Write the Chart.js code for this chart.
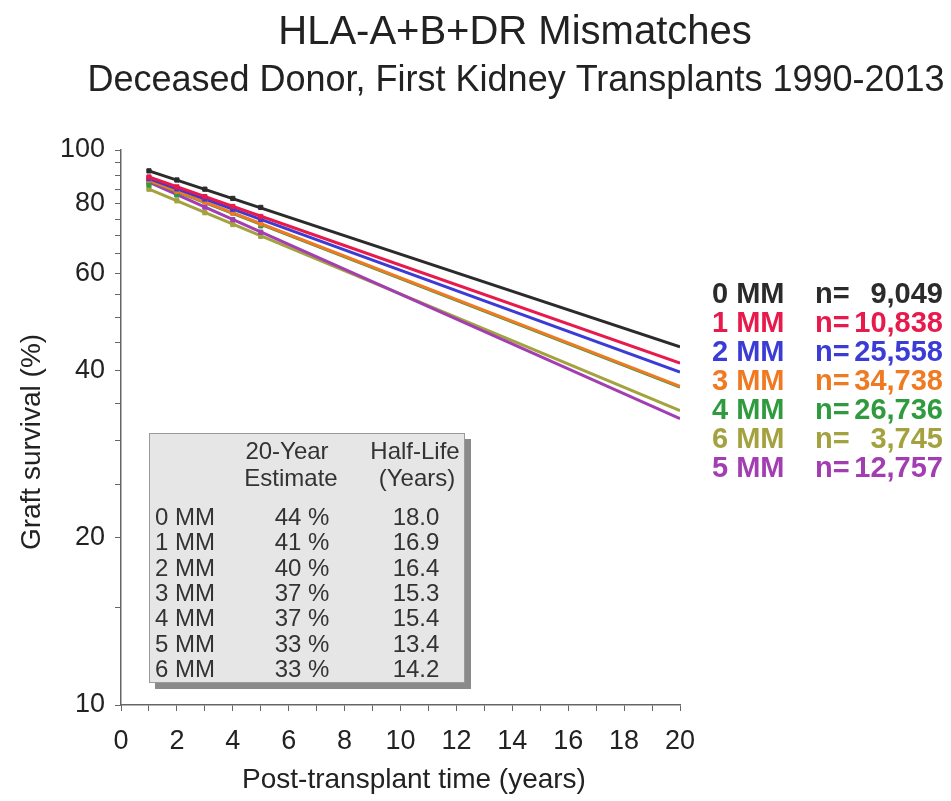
<!DOCTYPE html>
<html>
<head>
<meta charset="utf-8">
<script src="https://cdn.jsdelivr.net/npm/chart.js@4.4.1/dist/chart.umd.min.js"></script>
<style>
  html, body { margin: 0; padding: 0; background: #fff; }
  #wrap { width: 951px; height: 801px; }
</style>
</head>
<body>
<div id="wrap"><canvas id="graftChart" width="951" height="801"></canvas></div>
<script>
// series: 0 MM .. 6 MM
var seriesNames = ['0 MM', '1 MM', '2 MM', '3 MM', '4 MM', '5 MM', '6 MM'];
var seriesColors = ['#2b2b2b', '#e8194b', '#3b3bd6', '#f07a22', '#2f9a3e', '#a23db2', '#a3a23e'];
var nCounts = ['9,049', '10,838', '25,558', '34,738', '26,736', '12,757', '3,745'];

// observed survival, years 1-5
var obsYears = [1, 2, 3, 4, 5];
var obs0 = [91.7, 88.3, 85.0, 81.8, 78.8];
var obs1 = [89.4, 85.8, 82.4, 79.1, 75.9];
var obs2 = [88.8, 85.1, 81.6, 78.2, 75.0];
var obs3 = [88.2, 84.3, 80.6, 77.0, 73.6];
var obs4 = [86.5, 83.0, 80.9, 77.0, 73.0];
var obs5 = [87.5, 83.1, 78.9, 74.9, 71.1];
var obs6 = [85.0, 81.0, 77.1, 73.4, 69.9];
var observed = [obs0, obs1, obs2, obs3, obs4, obs5, obs6];

// fitted lines, year 1 -> year 20
var fitYears = [1, 20];
var fitStart = [91.7, 89.4, 88.8, 88.2, 88.0, 87.5, 85.0];
var fitEnd = [44.2, 41.3, 39.8, 37.5, 37.4, 32.8, 33.9];

// table in the plot
var est20 = ['44 %', '41 %', '40 %', '37 %', '37 %', '33 %', '33 %'];
var halfLife = ['18.0', '16.9', '16.4', '15.3', '15.4', '13.4', '14.2'];

// legend on the right, top to bottom
var legendOrder = [0, 1, 2, 3, 4, 6, 5];

// axis ticks
var yTickValues = [10, 15, 20, 25, 30, 35, 40, 45, 50, 55, 60, 65, 70, 75, 80, 85, 90, 95, 100];
var yTickLabels = [10, 20, 40, 60, 80, 100];

var FONT = '"Liberation Sans", Arial, sans-serif';
var TEXT = '#222';

var datasets = [];
// markers first so they sit on top of the lines
observed.forEach(function (vals, i) {
    datasets.push({
        label: seriesNames[i] + ' obs',
        data: obsYears.map(function (x, k) { return { x: x, y: vals[k] }; }),
        showLine: false,
        pointStyle: 'rect',
        pointRadius: 3,
        pointBackgroundColor: seriesColors[i],
        pointBorderColor: seriesColors[i],
        borderColor: seriesColors[i],
        order: 0
    });
});
seriesNames.forEach(function (name, i) {
    datasets.push({
        label: name,
        data: [{ x: fitYears[0], y: fitStart[i] }, { x: fitYears[1], y: fitEnd[i] }],
        showLine: true,
        borderColor: seriesColors[i],
        borderWidth: 3,
        pointRadius: 0,
        fill: false,
        order: 1
    });
});

// titles, legend text and the summary table
var textPlugin = {
    id: 'textPlugin',
    afterDraw: function (chart) {
        var ctx = chart.ctx;
        ctx.save();
        ctx.fillStyle = TEXT;
        ctx.textAlign = 'center';
        ctx.textBaseline = 'alphabetic';
        ctx.font = '40px ' + FONT;
        ctx.fillText('HLA-A+B+DR Mismatches', 515, 44);
        ctx.font = '36px ' + FONT;
        ctx.fillText('Deceased Donor, First Kidney Transplants 1990-2013', 516, 91);

        ctx.font = '28px ' + FONT;
        ctx.fillText('Post-transplant time (years)', 414, 788);
        ctx.save();
        ctx.translate(40, 442);
        ctx.rotate(-Math.PI / 2);
        ctx.fillText('Graft survival (%)', 0, 0);
        ctx.restore();

        // right legend
        ctx.font = 'bold 29px ' + FONT;
        legendOrder.forEach(function (s, r) {
            var y = 303 + r * 29;
            ctx.fillStyle = seriesColors[s];
            ctx.textAlign = 'left';
            ctx.fillText(seriesNames[s], 712, y);
            ctx.fillText('n=', 815, y);
            ctx.textAlign = 'right';
            ctx.fillText(nCounts[s], 943, y);
        });

        // table box with shadow
        ctx.fillStyle = '#8a8a8a';
        ctx.fillRect(155, 439, 316, 250);
        ctx.fillStyle = '#e6e6e6';
        ctx.fillRect(149, 433, 316, 250);
        ctx.strokeStyle = '#9a9a9a';
        ctx.lineWidth = 1;
        ctx.strokeRect(149.5, 433.5, 315, 249);

        ctx.fillStyle = '#333';
        ctx.font = '24px ' + FONT;
        ctx.textAlign = 'center';
        ctx.fillText('20-Year', 287, 459);
        ctx.fillText('Estimate', 291, 486);
        ctx.fillText('Half-Life', 415, 459);
        ctx.fillText('(Years)', 417, 486);
        seriesNames.forEach(function (name, i) {
            var y = 525 + i * 25.3;
            ctx.textAlign = 'left';
            ctx.fillText(name, 155, y);
            ctx.textAlign = 'center';
            ctx.fillText(est20[i], 302, y);
            ctx.fillText(halfLife[i], 416, y);
        });
        ctx.restore();
    }
};

new Chart(document.getElementById('graftChart'), {
    type: 'scatter',
    data: { datasets: datasets },
    plugins: [textPlugin],
    options: {
        responsive: false,
        animation: false,
        devicePixelRatio: 1,
        layout: { padding: { left: 0, top: 150, right: 271, bottom: 0 } },
        plugins: {
            legend: { display: false },
            tooltip: { enabled: false },
            title: { display: false }
        },
        scales: {
            x: {
                type: 'linear',
                min: 0,
                max: 20,
                afterFit: function (scale) { scale.height = 96; },
                border: { color: '#666', width: 1.5 },
                grid: { drawOnChartArea: false, drawTicks: true, tickLength: 6, color: '#666' },
                ticks: {
                    stepSize: 1,
                    autoSkip: false,
                    maxRotation: 0,
                    padding: 14,
                    color: TEXT,
                    font: { family: FONT, size: 27 },
                    callback: function (v) { return v % 2 === 0 ? v : ''; }
                }
            },
            y: {
                type: 'logarithmic',
                min: 10,
                max: 100,
                afterFit: function (scale) { scale.width = 121; },
                afterBuildTicks: function (scale) {
                    scale.ticks = yTickValues.map(function (v) { return { value: v }; });
                },
                border: { color: '#666', width: 1.5 },
                grid: { drawOnChartArea: false, drawTicks: true, tickLength: 6, color: '#666' },
                ticks: {
                    autoSkip: false,
                    padding: 10,
                    color: TEXT,
                    font: { family: FONT, size: 27 },
                    callback: function (v) { return yTickLabels.indexOf(v) >= 0 ? String(v) : ''; }
                }
            }
        }
    }
});
</script>
</body>
</html>
